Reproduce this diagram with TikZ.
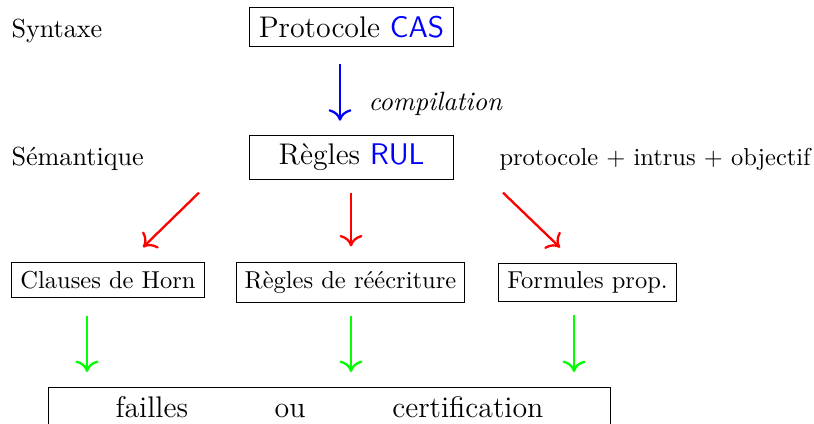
\documentclass[tikz,border=0pt]{standalone}
\usepackage{fontspec}
\usetikzlibrary{calc,arrows.meta}
\begin{document}
\begin{tikzpicture}[x=0.392pt,y=-0.392pt,
  lbl/.style={inner sep=0pt,anchor=base west},
  bigbox/.style={draw,anchor=base,font=\fontsize{11.7}{14}\selectfont,minimum width=79.6pt,inner sep=3.33pt},
  midbox/.style={draw,anchor=base,font=\fontsize{9.6}{12}\selectfont,inner sep=3.33pt},
  arr/.style={-{To[length=4.5pt,width=9pt]},line width=0.9pt},
  bluearr/.style={arr,blue},
  redarr/.style={arr,red},
  greenarr/.style={arr,green}]
\useasboundingbox (0,0) rectangle (814,423);
\clip (0,0) rectangle (814,423);

% level labels
\node[lbl,font=\fontsize{10.25}{12}\selectfont] (syn) at (11,37) {Syntaxe};
\node[lbl,font=\fontsize{10.25}{12}\selectfont] (sem) at (11,165) {Sémantique};

% source and compiled rules
\node[bigbox] (P) at (351.5,37.5) {Protocole \textsf{\color{blue}CAS}};
\node[bigbox] (R) at (351.5,164.5) {Règles \textsf{\color{blue}RUL}};
\node[lbl,font=\fontsize{9.6}{12}\selectfont] (pio) at (499,165) {protocole + intrus + objectif};
\node[lbl,font=\fontsize{10.4}{12}\selectfont\itshape] (comp) at (368,110) {compilation};

% translation targets
\node[midbox] (C) at (108,288.5) {Clauses de Horn};
\node[midbox] (RR) at (350.5,288.5) {Règles de réécriture};
\node[midbox] (F) at (587.5,288.5) {Formules prop.};

% outcome
\node[draw,anchor=north,font=\fontsize{11.7}{14}\selectfont,minimum width=220pt,inner sep=3.33pt] (B) at (329.5,387)
  {failles\hspace{34pt}ou\hspace{34pt}certification};

% connectors
\draw[bluearr] ($(P.south)+(-11.5,17)$) -- ($(R.north)+(-11.5,-14)$);
\draw[redarr] ($(R.south)+(-152.5,13)$) -- ($(C.north)+(35,-15)$);
\draw[redarr] ($(R.south)+(-0.5,13)$) -- ($(RR.north)+(0.5,-16)$);
\draw[redarr] ($(R.south)+(151.5,13)$) -- ($(F.north)+(-27.5,-15)$);
\draw[greenarr] ($(C.south)+(-21,18)$) -- ($(B.north)+(-242.5,-15)$);
\draw[greenarr] ($(RR.south)+(0.5,13)$) -- ($(B.north)+(21.5,-15)$);
\draw[greenarr] ($(F.south)+(-13.5,13)$) -- ($(B.north)+(244.5,-15)$);
\end{tikzpicture}
\end{document}
